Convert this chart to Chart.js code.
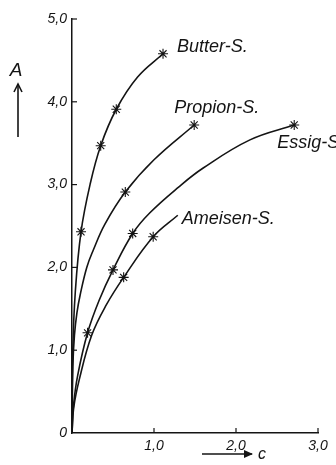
<!DOCTYPE html>
<html><head><meta charset="utf-8">
<script src="https://cdn.jsdelivr.net/npm/chart.js@4.4.0/dist/chart.umd.min.js"></script>
<style>
html,body{margin:0;padding:0;background:#fff}
#wrap{width:336px;height:465px;position:relative}
</style>
</head><body>
<div id="wrap"><canvas id="chart" width="336" height="465"></canvas></div>
<script>
/* Adsorption isotherms of fatty acids: A against c */

// axis ticks
var cTicks=[0,1,2,3];
var cTickLabels=['','1,0','2,0','3,0'];
var aTicks=[0,1,2,3,4,5];
var aTickLabels=['0','1,0','2,0','3,0','4,0','5,0'];

// measured points (the * marks)
var butterC=[0.11,0.35,0.54,1.11];
var butterA=[2.43,3.47,3.91,4.58];
var propionC=[0.65,1.49];
var propionA=[2.91,3.72];
var essigC=[0.19,0.50,0.74,2.71];
var essigA=[1.21,1.97,2.41,3.72];
var ameisenC=[0.63,0.99];
var ameisenA=[1.88,2.37];

// further points (no mark)
var butterTraceC=[0,0.01,0.04,0.22,0.80];
var butterTraceA=[0,1.00,1.70,3.00,4.30];
var propionTraceC=[0,0.01,0.03,0.06,0.10,0.18,0.26,0.40,1.00];
var propionTraceA=[0,0.80,1.18,1.45,1.67,2.00,2.21,2.52,3.30];
var essigTraceC=[0,0.02,0.07,0.33,0.95,1.30,1.60,2.17];
var essigTraceA=[0,0.35,0.70,1.60,2.66,2.97,3.20,3.54];
var ameisenTraceC=[0,0.02,0.09,0.24,0.42,1.29];
var ameisenTraceA=[0,0.30,0.65,1.18,1.55,2.63];

var curveNames=['Butter-S.','Propion-S.','Essig-S.','Ameisen-S.'];

var INK='#141414';
var LBLFONT='italic 18px "Liberation Sans Narrow", "Liberation Sans", Arial, sans-serif';

function pts(xs,ys){ return xs.map(function(x,i){return {x:x,y:ys[i]};}); }
function curve(mc,ma,tc,ta){
  var p=pts(mc,ma).concat(pts(tc,ta));
  p.sort(function(a,b){return a.x-b.x;});
  return p;
}

var curves=[
  curve(butterC,butterA,butterTraceC,butterTraceA),
  curve(propionC,propionA,propionTraceC,propionTraceA),
  curve(essigC,essigA,essigTraceC,essigTraceA),
  curve(ameisenC,ameisenA,ameisenTraceC,ameisenTraceA)
];
var marks=[pts(butterC,butterA),pts(propionC,propionA),pts(essigC,essigA),pts(ameisenC,ameisenA)];

// label offsets (px) from the end of each curve
var labelOff=[[14,-7],[-20,-17],[-17,18],[4,4]];

var datasets=[];
curves.forEach(function(c,i){
  datasets.push({label:curveNames[i],data:c,showLine:true,pointRadius:0,borderColor:INK,borderWidth:1.6,
    tension:0.4,fill:false});
});
marks.forEach(function(m,i){
  datasets.push({label:curveNames[i]+' mark',data:m,showLine:false,pointStyle:'star',pointRadius:5,
    borderColor:INK,backgroundColor:INK,borderWidth:1.1});
});

var decor={
  id:'decor',
  afterDraw:function(chart){
    var ctx=chart.ctx,xs=chart.scales.x,ys=chart.scales.y,a=chart.chartArea;
    ctx.save();
    ctx.strokeStyle=INK;ctx.fillStyle=INK;ctx.lineWidth=1.2;
    // inward ticks
    aTicks.forEach(function(v){ if(!v)return; var y=ys.getPixelForValue(v);
      ctx.beginPath();ctx.moveTo(a.left,y);ctx.lineTo(a.left+5,y);ctx.stroke(); });
    cTicks.forEach(function(v){ if(!v)return; var x=xs.getPixelForValue(v);
      ctx.beginPath();ctx.moveTo(x,a.bottom);ctx.lineTo(x,a.bottom-5);ctx.stroke(); });
    // curve names
    ctx.font=LBLFONT;ctx.textBaseline='middle';ctx.textAlign='left';
    curves.forEach(function(c,i){
      var e=c[c.length-1];
      ctx.fillText(curveNames[i],xs.getPixelForValue(e.x)+labelOff[i][0],ys.getPixelForValue(e.y)+labelOff[i][1]);
    });
    // axis titles with arrows
    ctx.font='italic 19px "Liberation Sans", Arial, sans-serif';
    ctx.textAlign='center';
    ctx.fillText('A',16,71);
    ctx.lineWidth=1.6;
    ctx.beginPath();ctx.moveTo(18,137);ctx.lineTo(18,84);ctx.stroke();
    ctx.beginPath();ctx.moveTo(14,92);ctx.lineTo(18,84);ctx.lineTo(22,92);ctx.stroke();
    ctx.beginPath();ctx.moveTo(202,454);ctx.lineTo(252,454);ctx.stroke();
    ctx.beginPath();ctx.moveTo(244,450);ctx.lineTo(253,454);ctx.lineTo(244,458);ctx.closePath();ctx.fill();
    ctx.font='italic 16px "Liberation Sans", Arial, sans-serif';
    ctx.fillText('c',262,455);
    ctx.restore();
  }
};

var tickFont={family:'"Liberation Sans", Arial, sans-serif',size:14,style:'italic'};

new Chart(document.getElementById('chart'),{
  type:'scatter',
  data:{datasets:datasets},
  options:{
    responsive:false,animation:false,
    layout:{padding:{top:19,right:18,left:0,bottom:0}},
    plugins:{legend:{display:false},tooltip:{enabled:false}},
    scales:{
      x:{type:'linear',min:0,max:3,
        afterFit:function(s){s.height=32;},
        afterBuildTicks:function(s){s.ticks=cTicks.map(function(v){return {value:v};});},
        grid:{display:false,drawTicks:false},
        border:{display:true,color:INK,width:1.5},
        ticks:{padding:5,color:INK,font:tickFont,maxRotation:0,
          callback:function(v){return cTickLabels[cTicks.indexOf(v)];}}},
      y:{type:'linear',min:0,max:5,
        afterFit:function(s){s.width=72;},
        afterBuildTicks:function(s){s.ticks=aTicks.map(function(v){return {value:v};});},
        grid:{display:false,drawTicks:false},
        border:{display:true,color:INK,width:1.5},
        ticks:{padding:5,color:INK,font:tickFont,
          callback:function(v){return aTickLabels[aTicks.indexOf(v)];}}}
    }
  },
  plugins:[decor]
});
</script>
</body></html>
